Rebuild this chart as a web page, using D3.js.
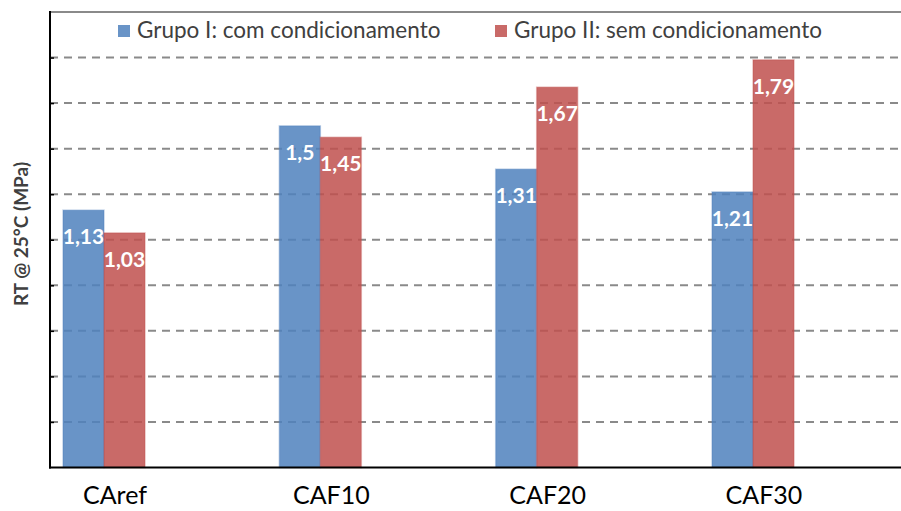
<!DOCTYPE html>
<html>
<head>
<meta charset="utf-8">
<script src="https://cdn.jsdelivr.net/npm/d3@7"></script>
<style>
  html, body { margin: 0; padding: 0; background: #fff; }
  svg { display: block; }
</style>
</head>
<body>
<svg id="chart" width="901" height="511"></svg>
<script>
// Mixtures and indirect tensile strength at 25 °C (MPa)
const categories = ["CAref", "CAF10", "CAF20", "CAF30"];
const seriesNames = ["Grupo I: com condicionamento", "Grupo II: sem condicionamento"];
const grupoI = [1.13, 1.5, 1.31, 1.21];
const grupoII = [1.03, 1.45, 1.67, 1.79];
const yTicks = [0.2, 0.4, 0.6, 0.8, 1.0, 1.2, 1.4, 1.6, 1.8];
const yLabel = "RT @ 25°C (MPa)";

const colors = ["#4F81BD", "#C0504D"];
const series = [grupoI, grupoII];

const svg = d3.select("#chart");
const plot = { left: 50, right: 901, top: 12, bottom: 467.5 };

const y = d3.scaleLinear().domain([0, 2.0]).range([plot.bottom, plot.top]);
const x = d3.scalePoint().domain(categories).range([104, 753]);
const barW = 41;
const fmt = v => String(v).replace(".", ",");
const font = "Lato, 'Open Sans', sans-serif";

// dashed horizontal gridlines
svg.append("g")
  .selectAll("line")
  .data(yTicks)
  .join("line")
  .attr("x1", plot.left).attr("x2", plot.right)
  .attr("y1", d => y(d)).attr("y2", d => y(d))
  .attr("stroke", "#8a8a8a")
  .attr("stroke-width", 2)
  .attr("stroke-dasharray", "8,6");

// top border of the plot area
svg.append("line")
  .attr("x1", plot.left).attr("x2", plot.right)
  .attr("y1", y(2.0)).attr("y2", y(2.0))
  .attr("stroke", "#8a8a8a").attr("stroke-width", 2);

// bars
series.forEach((vals, si) => {
  const g = svg.append("g");
  g.selectAll("rect")
    .data(vals)
    .join("rect")
    .attr("x", (d, i) => x(categories[i]) + (si === 0 ? -barW : 0))
    .attr("y", d => y(d))
    .attr("width", barW)
    .attr("height", d => y(0) - y(d))
    .attr("fill", colors[si])
    .attr("fill-opacity", 0.85)
    .attr("stroke", colors[si])
    .attr("stroke-opacity", 0.35)
    .attr("stroke-width", 1.5);

  g.selectAll("text")
    .data(vals)
    .join("text")
    .attr("x", (d, i) => x(categories[i]) + (si === 0 ? -barW / 2 : barW / 2))
    .attr("y", d => y(d) + 34)
    .attr("text-anchor", "middle")
    .attr("font-family", font)
    .attr("font-weight", "bold")
    .attr("font-size", 21)
    .attr("fill", "#fff")
    .text(d => fmt(d));
});

// left axis with inward ticks, no tick labels
svg.append("g")
  .attr("transform", `translate(${plot.left},0)`)
  .call(d3.axisLeft(y).tickValues(yTicks).tickSize(-4).tickFormat(""))
  .call(g => g.select(".domain").remove())
  .selectAll("line").attr("stroke", "#000").attr("stroke-width", 1.5);

svg.append("line")
  .attr("x1", plot.left).attr("x2", plot.left)
  .attr("y1", plot.top - 1).attr("y2", plot.bottom + 1)
  .attr("stroke", "#000").attr("stroke-width", 2);

// baseline
svg.append("line")
  .attr("x1", plot.left - 1).attr("x2", plot.right)
  .attr("y1", plot.bottom).attr("y2", plot.bottom)
  .attr("stroke", "#000").attr("stroke-width", 2);

// category labels
svg.append("g")
  .selectAll("text")
  .data(categories)
  .join("text")
  .attr("x", d => x(d) + 11)
  .attr("y", 504)
  .attr("text-anchor", "middle")
  .attr("font-family", font)
  .attr("font-size", 25)
  .attr("fill", "#000")
  .text(d => d);

// y-axis title
svg.append("text")
  .attr("transform", "translate(28,234) rotate(-90)")
  .attr("text-anchor", "middle")
  .attr("font-family", font)
  .attr("font-weight", "bold")
  .attr("font-size", 19)
  .attr("fill", "#404040")
  .text(yLabel);

// legend
const legendX = [118, 495];
const legend = svg.append("g");
seriesNames.forEach((name, i) => {
  legend.append("rect")
    .attr("x", legendX[i]).attr("y", 25)
    .attr("width", 12).attr("height", 12)
    .attr("fill", colors[i]).attr("fill-opacity", 0.85);
  legend.append("text")
    .attr("x", legendX[i] + 19).attr("y", 38)
    .attr("font-family", font)
    .attr("font-size", 22.5)
    .attr("fill", "#404040")
    .text(name);
});
</script>
</body>
</html>
